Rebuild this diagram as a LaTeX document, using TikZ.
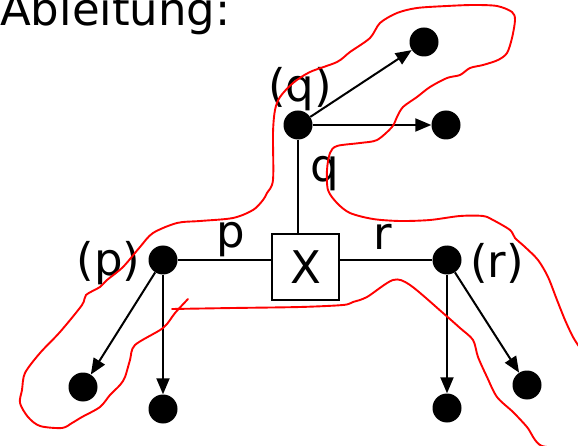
\documentclass[tikz,border=0pt]{standalone}
\usepackage{fontspec}
\setmainfont{DejaVu Sans}
\usetikzlibrary{arrows.meta}
\begin{document}
\begin{tikzpicture}[x=1pt,y=-1pt,
  dot/.style={circle,fill=black,inner sep=0pt,minimum size=29pt},
  lbl/.style={inner sep=0pt,anchor=base,font=\fontsize{45}{54}\selectfont},
  conn/.style={line width=2pt},
  arr/.style={line width=2pt,-{Triangle[length=16pt,width=13pt]}},
  hand/.style={red,line width=1.9pt,line join=round,line cap=round}]
\useasboundingbox (0,0) rectangle (578,446);
\node[lbl,anchor=base west] (title) at (0,26) {Ableitung:};
\node[dot] (q) at (298,125) {};
\node[dot] (qa) at (424,42) {};
\node[dot] (qb) at (446,125) {};
\node[dot] (p) at (163,260) {};
\node[dot] (pa) at (83,387) {};
\node[dot] (pb) at (163,409) {};
\node[dot] (r) at (447,260) {};
\node[dot] (rb) at (447,408) {};
\node[dot] (ra) at (527,385) {};
\node[draw,line width=2pt,minimum width=67pt,minimum height=66pt,inner sep=0pt,font=\fontsize{45}{54}\selectfont] (x) at (305.5,267) {X};
\node[lbl] (lq) at (300,102) {(q)};
\node[lbl] (lq2) at (325,182) {q};
\node[lbl] (lp) at (108.5,276) {(p)};
\node[lbl] (lp2) at (231,248) {p};
\node[lbl] (lr2) at (383,250) {r};
\node[lbl] (lr) at (497,278) {(r)};
\draw[conn] (q) -- (q |- x.north);
\draw[conn] (p) -- (p -| x.west);
\draw[conn] (r) -- (r -| x.east);
\draw[arr] (q) -- (qa);
\draw[arr] (q) -- (qb);
\draw[arr] (p) -- (pa);
\draw[arr] (p) -- (pb);
\draw[arr] (r) -- (rb);
\draw[arr] (r) -- (ra);
\draw[hand] plot[smooth,tension=0.5] coordinates {(188,299) (175,313) (163,328) (135,345) (130,360) (125,377) (120,385) (110,395) (100,407) (82,417) (72,423) (62,428) (40,426) (28,417) (20,403) (22,390) (25,373) (40,353) (60,332) (82,305) (86,295) (100,287) (107,280) (123,267) (140,247) (153,233) (177,223) (200,221) (233,218) (253,210) (263,200) (267,193) (273,180) (273,133) (275,110) (280,97) (293,83) (310,72) (337,62) (350,52) (370,38) (380,23) (397,13) (417,8) (447,6) (473,5) (497,6) (512,12) (515,20) (512,38) (507,53) (498,60) (483,65) (470,68) (460,75) (447,78) (430,87) (417,97) (403,107) (397,117) (392,127) (377,140) (360,143) (337,146) (330,153) (327,170) (328,190) (337,203) (350,213) (373,219) (400,221) (430,220) (460,216) (483,216) (493,220) (510,230) (515,238) (525,247) (538,260) (548,277) (557,300) (565,320) (573,337) (580,348)};
\draw[hand] plot[smooth,tension=0.5] coordinates {(172,309) (233,308) (300,307) (343,305) (353,302) (367,297) (393,280) (410,285) (443,313) (460,328) (473,340) (478,357) (487,377) (497,397) (513,412) (527,427) (542,446) (580,447)};
\end{tikzpicture}
\end{document}
